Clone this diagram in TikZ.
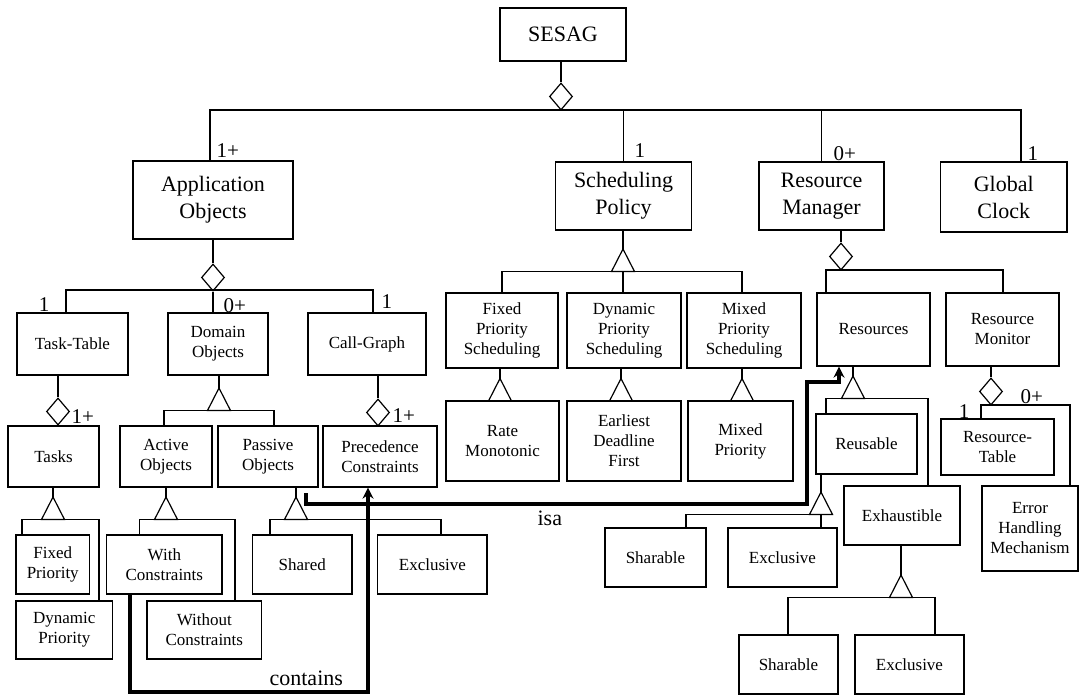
\documentclass[tikz,border=0pt]{standalone}
\usepackage{fontspec}
\setmainfont{Liberation Serif}
\usetikzlibrary{shapes.geometric,arrows.meta}

% class box given by its corners: name, x1, y1, x2, y2, font style, text
\newcommand\ubox[7]{%
  \node[box,#6,minimum width={(#4)-(#2)},minimum height={(#5)-(#3)}]
    (#1) at ({((#2)+(#4))/2},{((#3)+(#5))/2}) {#7};}
% open triangle (generalisation) hanging from its apex
\newcommand\gentri[1]{\draw[line join=miter] (#1) -- ++(-11.5,22.5) -- ++(23,0) -- cycle;}

\begin{document}
\begin{tikzpicture}[x=1pt,y=-1pt,line width=1.2pt,
  box/.style={draw,rectangle,inner sep=0pt,align=center,fill=white},
  big/.style={font=\fontsize{22}{27}\selectfont},
  small/.style={font=\fontsize{17}{20}\selectfont},
  mult/.style={inner sep=0pt,font=\fontsize{21}{25}\selectfont},
  dia/.style={draw,diamond,inner sep=0pt,minimum width=23pt,minimum height=27pt,fill=white},
  link/.style={line width=3.4pt,-{Stealth[length=11pt,width=11pt]}}]
\useasboundingbox (0,0) rectangle (1080,696);

% ---------- top level ----------
\ubox{sesag}{500}{8}{626}{61}{big}{SESAG}
\node[dia] (d0) at (561,96.5) {};
\draw (d0.north |- sesag.south) -- (d0.north);
\coordinate (bL) at (210,110);
\coordinate (bR) at (1021,110);
\ubox{app}{133}{161}{293}{239}{big}{Application\\Objects}
\ubox{sp}{555.5}{162}{691.5}{230}{big}{Scheduling\\Policy}
\ubox{rm}{759}{162}{884}{230}{big}{Resource\\Manager}
\ubox{gc}{940.5}{162}{1067}{232}{big}{Global\\Clock}
\draw (bL |- app.north) -- (bL) -- (bR) -- (bR |- gc.north);
\draw (sp.north |- bL) -- (sp.north);
\draw (rm.north |- bL) -- (rm.north);
\node[mult,anchor=base west] (m1) at (216,157) {1+};
\node[mult,anchor=base west] (m2) at (634,157) {1};
\node[mult,anchor=base west] (m3) at (833,160) {0+};
\node[mult,anchor=base west] (m4) at (1027,160) {1};

% ---------- application objects ----------
\node[dia] (d1) at (213,277.5) {};
\draw (app.south) -- (d1.north);
\ubox{tt}{17}{313}{128}{375}{small}{Task-Table}
\ubox{do}{168}{313}{268}{375}{small}{Domain\\Objects}
\ubox{cg}{308}{313}{426}{375}{small}{Call-Graph}
\coordinate (b1L) at (66,290);
\coordinate (b1R) at (373,290);
\draw (b1L |- tt.north) -- (b1L) -- (b1R) -- (b1R |- cg.north);
\draw (d1.south) -- (d1.south |- do.north);
\node[mult,anchor=base east] (m5) at (50,311) {1};
\node[mult,anchor=base west] (m6) at (223,312) {0+};
\node[mult,anchor=base west] (m7) at (381,308) {1};

% task table
\node[dia] (d2) at (58,411.5) {};
\draw (d2.north |- tt.south) -- (d2.north);
\ubox{tasks}{8}{426}{99}{487}{small}{Tasks}
\node[mult,anchor=base west] (m8) at (71,423) {1+};

% domain objects
\coordinate (t1) at (219,388);
\draw (t1 |- do.south) -- (t1);
\gentri{t1}
\ubox{ao}{120}{426}{212}{487}{small}{Active\\Objects}
\ubox{po}{218}{426}{318}{487}{small}{Passive\\Objects}
\coordinate (b2L) at (164,410.5);
\coordinate (b2R) at (274,410.5);
\draw (b2L |- ao.north) -- (b2L) -- (b2R) -- (b2R |- po.north);

% call graph
\node[dia] (d3) at (378,412.5) {};
\draw (d3.north |- cg.south) -- (d3.north);
\ubox{pc}{323}{426}{437}{487}{small}{Precedence\\Constraints}
\node[mult,anchor=base west] (m9) at (392,422) {1+};

% tasks
\coordinate (t2) at (53,497);
\draw (t2 |- tasks.south) -- (t2);
\gentri{t2}
\ubox{fp}{16}{535}{89.5}{594}{small}{Fixed\\Priority}
\ubox{dp}{16}{601}{112.6}{659}{small}{Dynamic\\Priority}
\coordinate (b3L) at (22,519.5);
\coordinate (b3R) at (99,519.5);
\draw (b3L |- fp.north) -- (b3L) -- (b3R) -- (b3R |- dp.north);

% active objects
\coordinate (t3) at (166,497);
\draw (t3 |- ao.south) -- (t3);
\gentri{t3}
\ubox{wc}{106.7}{535}{222}{594}{small}{With\\Constraints}
\ubox{woc}{147}{601}{261.7}{659}{small}{Without\\Constraints}
\coordinate (b4L) at (139.5,519.5);
\coordinate (b4R) at (235,519.5);
\draw (b4L |- wc.north) -- (b4L) -- (b4R) -- (b4R |- woc.north);

% passive objects
\coordinate (t4) at (296,497);
\draw (t4 |- po.south) -- (t4);
\gentri{t4}
\ubox{sh}{252.4}{535}{352}{594}{small}{Shared}
\ubox{ex1}{377.8}{535}{487}{594}{small}{Exclusive}
\coordinate (b5L) at (270,519.5);
\coordinate (b5R) at (441,519.5);
\draw (b5L |- sh.north) -- (b5L) -- (b5R) -- (b5R |- ex1.north);

% ---------- scheduling policy ----------
\coordinate (t5) at (623,249);
\draw (t5 |- sp.south) -- (t5);
\gentri{t5}
\ubox{fps}{446}{293}{558}{368}{small}{Fixed\\Priority\\Scheduling}
\ubox{dps}{567}{293}{681}{368}{small}{Dynamic\\Priority\\Scheduling}
\ubox{mps}{687}{293}{801}{368}{small}{Mixed\\Priority\\Scheduling}
\coordinate (b6L) at (502,271.5);
\coordinate (b6R) at (742,271.5);
\draw (b6L |- fps.north) -- (b6L) -- (b6R) -- (b6R |- mps.north);
\draw (t5 |- b6L) -- (t5 |- dps.north);

\coordinate (t6) at (500,378.5);
\draw (t6 |- fps.south) -- (t6);
\gentri{t6}
\ubox{rmo}{446}{401}{559}{481}{small}{Rate\\Monotonic}
\coordinate (t7) at (621,378.5);
\draw (t7 |- dps.south) -- (t7);
\gentri{t7}
\ubox{edf}{567}{401}{681}{481}{small}{Earliest\\Deadline\\First}
\coordinate (t8) at (742,378.5);
\draw (t8 |- mps.south) -- (t8);
\gentri{t8}
\ubox{mp}{688}{401}{793}{481}{small}{Mixed\\Priority}

% ---------- resource manager ----------
\node[dia] (d4) at (841,256.5) {};
\draw (d4.north |- rm.south) -- (d4.north);
\ubox{res}{817}{293}{930}{366}{small}{Resources}
\ubox{rmon}{946}{293}{1059}{366}{small}{Resource\\Monitor}
\coordinate (b7L) at (826,270);
\coordinate (b7R) at (1003,270);
\draw (b7L |- res.north) -- (b7L) -- (b7R) -- (b7R |- rmon.north);

% resources
\coordinate (t9) at (853,376);
\draw (t9 |- res.south) -- (t9);
\gentri{t9}
\ubox{reu}{816}{414}{917}{474}{small}{Reusable}
\ubox{exh}{844}{486}{960}{545}{small}{Exhaustible}
\coordinate (b8L) at (826,398.5);
\coordinate (b8R) at (928,398.5);
\draw (b8L |- reu.north) -- (b8L) -- (b8R) -- (b8R |- exh.north);

% reusable
\coordinate (t10) at (821,492);
\draw (t10 |- reu.south) -- (t10);
\gentri{t10}
\ubox{sha1}{605}{528}{706}{587}{small}{Sharable}
\ubox{exc2}{728}{528}{837}{587}{small}{Exclusive}
\coordinate (b9L) at (686,514.5);
\draw (b9L |- sha1.north) -- (b9L) -- (t10 |- b9L) -- (t10 |- exc2.north);

% exhaustible
\coordinate (t11) at (901,575);
\draw (t11 |- exh.south) -- (t11);
\gentri{t11}
\ubox{sha2}{739}{635}{838}{694}{small}{Sharable}
\ubox{exc3}{855}{635}{964}{694}{small}{Exclusive}
\coordinate (b10L) at (788,597.5);
\coordinate (b10R) at (935,597.5);
\draw (b10L |- sha2.north) -- (b10L) -- (b10R) -- (b10R |- exc3.north);

% resource monitor
\node[dia] (d5) at (991,391.5) {};
\draw (d5.north |- rmon.south) -- (d5.north);
\ubox{rt}{941}{419}{1054}{475}{small}{Resource-\\Table}
\ubox{err}{982}{486}{1078}{571}{small}{Error\\Handling\\Mechanism}
\coordinate (b11L) at (981,405);
\coordinate (b11R) at (1070,405);
\draw (b11L |- rt.north) -- (b11L) -- (b11R) -- (b11R |- err.north);
\node[mult,anchor=base east] (m10) at (970,418) {1};
\node[mult,anchor=base west] (m11) at (1020,403) {0+};

% ---------- isa / contains links ----------
\coordinate (isaS) at (306,493);
\coordinate (isaA) at (807,504);
\coordinate (isaB) at (839,382);
\draw[link] (isaS) -- (isaS |- isaA) -- (isaA) -- (isaA |- isaB) -- (isaB) -- (isaB |- res.south);
\node[mult,font=\fontsize{22}{26}\selectfont,anchor=base west] (isa) at (537,525) {isa};

\coordinate (conS) at (130,594);
\coordinate (conA) at (368,692);
\draw[link] (conS) -- (conS |- conA) -- (conA) -- (conA |- pc.south);
\node[mult,font=\fontsize{22}{26}\selectfont,anchor=base west] (con) at (269,685) {contains};
\end{tikzpicture}
\end{document}
